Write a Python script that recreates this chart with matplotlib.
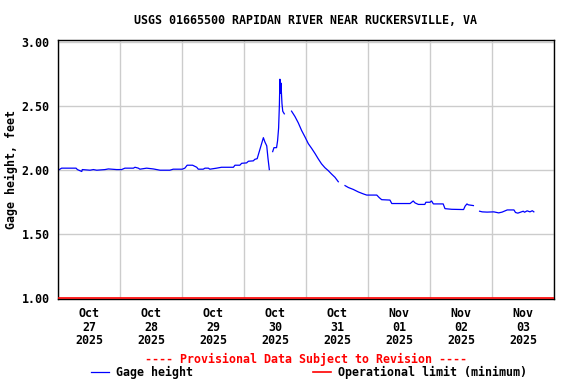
import numpy as np
import pandas as pd
import matplotlib
matplotlib.use("Agg")
import matplotlib.pyplot as plt
import matplotlib.dates as mdates
from matplotlib.ticker import FormatStrFormatter

# hours since 2025-10-27 00:00, nan = gap in record
hours = [0.1, 1.4, 7.0, 7.5, 9.2, 9.4, 12.4, 13.7, 15.0, 18.2, 19.5, 22.7,
         24.6, 25.9, 29.2, 29.8, 31.1, 31.7, 34.3, 36.9, 39.5, 43.3, 44.6, 48.1,
         49.1, 50.0, 52.1, 53.7, 54.3, 56.2, 56.9, 58.2, 58.8, 61.4, 63.3, 67.9,
         68.5, 70.4, 71.1, 73.0, 73.7, 75.6, 76.2, 77.1, 77.9, 78.4, 79.0, 79.5,
         80.1, 80.8, 81.3, 81.8, 82.4,
         83.1, 83.6, 84.6, 85.0, 85.4, 85.7, 85.9, 86.2, 86.3, 86.7, 87.0, 87.6, 89.0,
         90.4, 91.7, 93.0, 94.3, 95.6, 96.9, 98.2, 99.5, 100.7, 102.0, 103.3,
         104.6, 105.9, 107.2, 108.5, 110.0,
         111.1, 112.4, 114.3, 116.3, 118.2, 119.5, 123.4, 124.4, 125.3, 128.5,
         129.2, 136.3, 137.5, 138.2, 139.5, 142.0, 142.4, 144.0, 144.6, 145.3,
         149.1, 149.8, 152.4, 157.0, 157.6, 158.3, 158.8, 160.8, 162.0,
         163.2, 164.2, 166.1, 168.7, 170.6, 171.9, 173.9, 176.5, 177.1, 178.0,
         179.0, 180.1, 180.6, 181.6, 182.7, 183.6, 184.2]
gage = [2.00, 2.016, 2.016, 2.005, 1.99, 2.005, 2.00, 2.005, 2.00, 2.005, 2.01, 2.005,
        2.005, 2.016, 2.016, 2.023, 2.016, 2.008, 2.016, 2.01, 2.00, 2.00, 2.008, 2.008,
        2.016, 2.039, 2.039, 2.023, 2.008, 2.008, 2.016, 2.016, 2.008, 2.016, 2.023, 2.023,
        2.039, 2.039, 2.054, 2.057, 2.07, 2.073, 2.085, 2.09, 2.145, 2.18, 2.22, 2.254,
        2.22, 2.19, 2.09, 2.005, np.nan,
        2.145, 2.176, 2.176, 2.23, 2.33, 2.51, 2.71, 2.60, 2.68, 2.52, 2.46, 2.44, np.nan,
        2.461, 2.42, 2.37, 2.31, 2.26, 2.207, 2.17, 2.13, 2.09, 2.05, 2.02,
        1.997, 1.97, 1.945, 1.91, np.nan,
        1.88, 1.865, 1.85, 1.83, 1.815, 1.806, 1.806, 1.785, 1.77, 1.767,
        1.74, 1.74, 1.76, 1.745, 1.733, 1.733, 1.75, 1.75, 1.76, 1.737,
        1.737, 1.70, 1.695, 1.693, 1.72, 1.737, 1.73, 1.724, np.nan,
        1.68, 1.675, 1.673, 1.675, 1.667, 1.673, 1.69, 1.69, 1.67, 1.665,
        1.672, 1.68, 1.672, 1.683, 1.675, 1.684, 1.675]
oper_limit = 1.00

start = pd.Timestamp("2025-10-27 00:00")
end = pd.Timestamp("2025-11-04 00:00")
times = start + pd.to_timedelta(hours, unit="h")

plt.rcParams['font.family'] = ['DejaVu Sans Mono']
plt.rcParams['font.weight'] = 'bold'
fs = 8.4

fig = plt.figure(figsize=(5.76, 3.84), dpi=100)
ax = fig.add_axes([58/576, 1 - 299/384, 496/576, 259.5/384])

gl, = ax.plot(times, gage, color='blue', lw=0.9)
ol = ax.axhline(oper_limit, color='red', lw=1.2, zorder=5)

ax.set_xlim(start, end)
ax.set_ylim(0.995, 3.02)
ax.set_yticks([1.0, 1.5, 2.0, 2.5, 3.0])
ax.yaxis.set_major_formatter(FormatStrFormatter('%.2f'))

ax.xaxis.set_major_locator(mdates.DayLocator())
ax.xaxis.set_major_formatter(plt.NullFormatter())
ax.xaxis.set_minor_locator(mdates.HourLocator(byhour=[12]))
ax.xaxis.set_minor_formatter(mdates.DateFormatter('%b\n%d\n%Y'))

ax.grid(True, which='major', color='#cccccc', lw=1.0)
ax.set_axisbelow(True)
ax.tick_params(which='both', length=0)
ax.tick_params(axis='y', pad=6, labelsize=fs)
ax.tick_params(axis='x', which='minor', pad=6, labelsize=fs)
for t in ax.xaxis.get_minorticklabels():
    t.set_linespacing(1.05)
for s in ax.spines.values():
    s.set_linewidth(1.0)

ax.set_ylabel('Gage height, feet', fontsize=fs, fontweight='bold')
ax.yaxis.set_label_coords(-(58 - 18) / 496, 0.5)
fig.text(306/576, 1 - 20/384, 'USGS 01665500 RAPIDAN RIVER NEAR RUCKERSVILLE, VA',
         ha='center', va='center', fontsize=fs, fontweight='bold')
fig.text(306/576, 1 - 359/384, '---- Provisional Data Subject to Revision ----',
         ha='center', va='center', fontsize=fs, color='red', fontweight='bold')

fig.legend([gl, ol], ['Gage height', 'Operational limit (minimum)'],
           loc='center', bbox_to_anchor=(309/576, 1 - 372.5/384), ncol=2,
           frameon=False, fontsize=fs, handlelength=1.5, handletextpad=0.6,
           columnspacing=10.3, borderpad=0, borderaxespad=0)

fig.savefig('out.png', dpi=100)
